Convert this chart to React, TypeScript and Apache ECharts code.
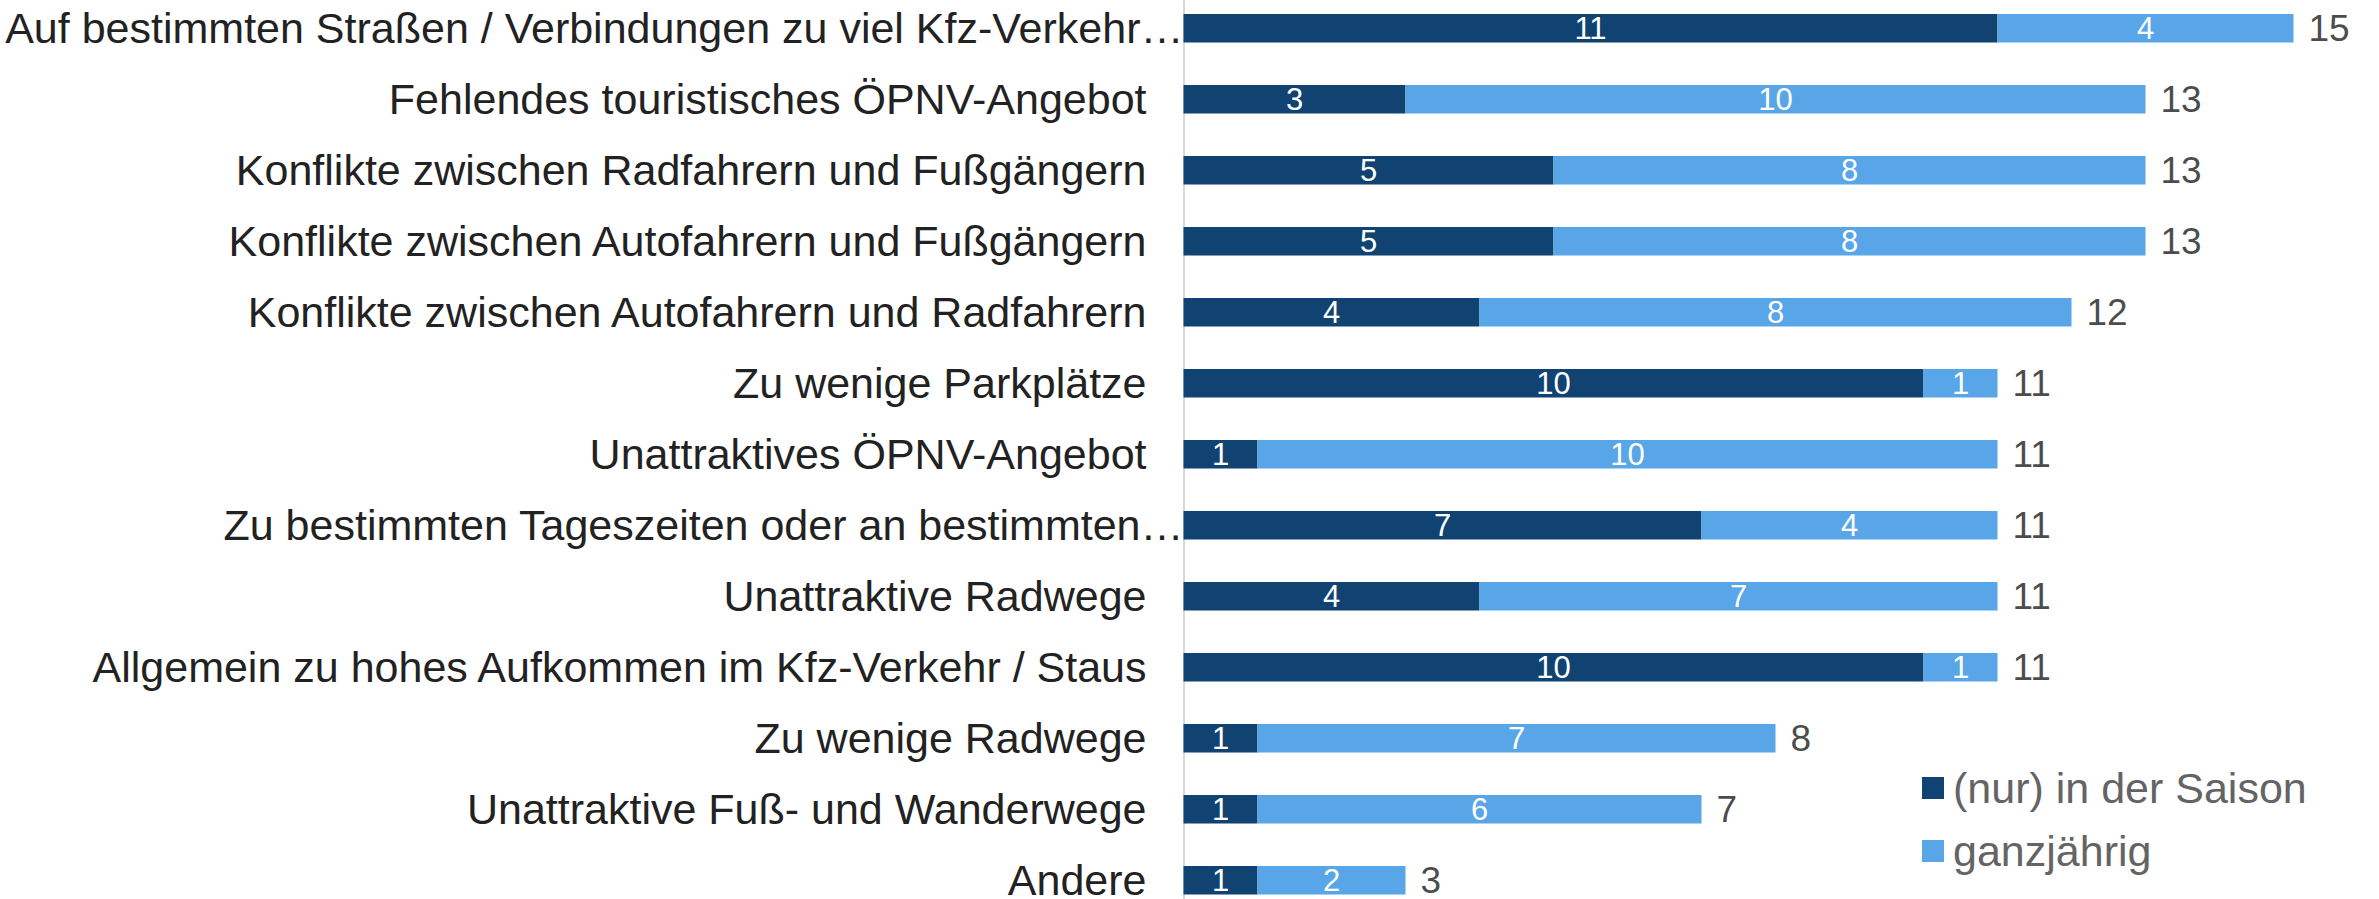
import React, { useEffect, useRef } from "react";
import * as echarts from "echarts";

const categories = [
  "Auf bestimmten Straßen / Verbindungen zu viel Kfz-Verkehr…",
  "Fehlendes touristisches ÖPNV-Angebot",
  "Konflikte zwischen Radfahrern und Fußgängern",
  "Konflikte zwischen Autofahrern und Fußgängern",
  "Konflikte zwischen Autofahrern und Radfahrern",
  "Zu wenige Parkplätze",
  "Unattraktives ÖPNV-Angebot",
  "Zu bestimmten Tageszeiten oder an bestimmten…",
  "Unattraktive Radwege",
  "Allgemein zu hohes Aufkommen im Kfz-Verkehr / Staus",
  "Zu wenige Radwege",
  "Unattraktive Fuß- und Wanderwege",
  "Andere",
];

const saison = [11, 3, 5, 5, 4, 10, 1, 7, 4, 10, 1, 1, 1];
const ganzjaehrig = [4, 10, 8, 8, 8, 1, 10, 4, 7, 1, 7, 6, 2];
const seriesNames = ["(nur) in der Saison", "ganzjährig"];

const FONT = "'Liberation Sans', Arial, sans-serif";

export default function App() {
  const ref = useRef<HTMLDivElement>(null);

  useEffect(() => {
    if (!ref.current) return;
    const chart = echarts.init(ref.current, undefined, { renderer: "svg" });
    const totals = saison.map((v, i) => v + ganzjaehrig[i]);
    const pxPerUnit = 74;
    const xMax = 16;

    chart.setOption({
      animation: false,
      textStyle: { fontFamily: FONT },
      grid: {
        left: 1183.5,
        top: 0.8,
        height: 923,
        width: pxPerUnit * xMax,
        containLabel: false,
      },
      legend: {
        data: seriesNames,
        orient: "vertical",
        left: 1922,
        top: 774.5,
        padding: 0,
        itemWidth: 22,
        itemHeight: 22,
        itemGap: 20,
        icon: "rect",
        textStyle: {
          fontFamily: FONT,
          fontSize: 43,
          lineHeight: 43,
          color: "#646464",
          padding: [0, 0, 0, 4],
        },
      },
      xAxis: {
        type: "value",
        min: 0,
        max: xMax,
        show: false,
        splitLine: { show: false },
      },
      yAxis: {
        type: "category",
        data: categories,
        inverse: true,
        axisTick: { show: false },
        axisLine: { show: true, lineStyle: { color: "#d9d9d9", width: 2 } },
        axisLabel: {
          margin: 0,
          fontFamily: FONT,
          fontSize: 43,
          lineHeight: 34,
          color: "#222222",
          formatter: (v: string) => (v.endsWith("…") ? `{t|${v}}` : `{n|${v}}`),
          rich: {
            t: { fontFamily: FONT, fontSize: 43, lineHeight: 34, color: "#222222", padding: [0, 0, 0, 0] },
            n: { fontFamily: FONT, fontSize: 43, lineHeight: 34, color: "#222222", padding: [0, 37, 0, 0] },
          },
        },
      },
      series: [
        {
          name: seriesNames[0],
          type: "bar",
          stack: "total",
          data: saison,
          barWidth: "40%",
          itemStyle: { color: "#104372" },
          label: {
            show: true,
            position: "inside",
            color: "#ffffff",
            fontFamily: FONT,
            fontSize: 31,
          },
        },
        {
          name: seriesNames[1],
          type: "bar",
          stack: "total",
          data: ganzjaehrig,
          barWidth: "40%",
          itemStyle: { color: "#58a6e8" },
          label: {
            show: true,
            position: "inside",
            color: "#ffffff",
            fontFamily: FONT,
            fontSize: 31,
          },
        },
        {
          name: "Summe",
          type: "scatter",
          data: totals.map((t, i) => [t, categories[i]]),
          symbolSize: 0,
          silent: true,
          label: {
            show: true,
            position: "right",
            distance: 15,
            color: "#1a1a1a",
            fontFamily: FONT,
            fontSize: 37,
            lineHeight: 34,
            formatter: (p: any) => String(p.value[0]),
          },
        },
      ],
    });

    return () => chart.dispose();
  }, []);

  return (
    <div
      ref={ref}
      style={{ position: "fixed", left: 0, top: -8, width: 2379, height: 932, background: "#ffffff" }}
    />
  );
}
